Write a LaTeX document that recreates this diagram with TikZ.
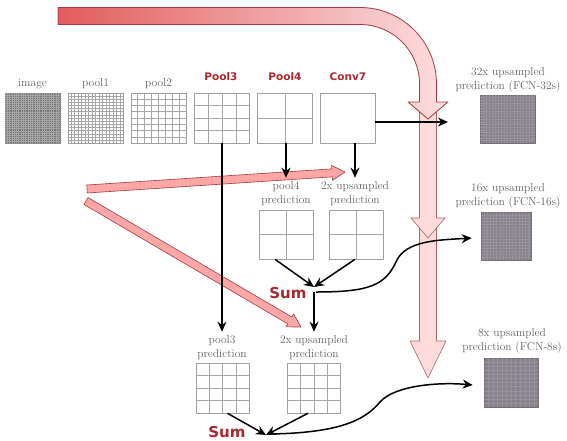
\documentclass[tikz,border=0pt]{standalone}
\usepackage{fontspec}
\usetikzlibrary{arrows.meta,calc,positioning}
\newfontfamily\lblsans{DejaVu Sans}
\definecolor{lblred}{RGB}{168,40,48}
\definecolor{outgray}{RGB}{136,130,140}
\definecolor{bandline}{RGB}{160,60,70}
\definecolor{bandstart}{RGB}{226,92,92}
\definecolor{bandend}{RGB}{252,222,224}

% inner lines of a feature map
\newcommand{\gridlines}[3][gray!70]{%
  \foreach \k in {1,...,#3}{%
    \draw[#1] ($(#2.north west)!{\k/(#3+1)}!(#2.north east)$) -- ($(#2.south west)!{\k/(#3+1)}!(#2.south east)$);
    \draw[#1] ($(#2.north west)!{\k/(#3+1)}!(#2.south west)$) -- ($(#2.north east)!{\k/(#3+1)}!(#2.south east)$);
  }}
% flat arrow: tail, tip, half shaft, half head, head length
\newcommand{\fatarrow}[6][]{%
  \coordinate (fah) at ($(#3)!#6pt!(#2)$);
  \draw[#1] ($(#2)!#4pt!90:(#3)$) -- ($(fah)!#4pt!90:(#3)$) -- ($(fah)!#5pt!90:(#3)$) -- (#3)
    -- ($(fah)!#5pt!-90:(#3)$) -- ($(fah)!#4pt!-90:(#3)$) -- ($(#2)!#4pt!-90:(#3)$) -- cycle;}

\begin{document}
\begin{tikzpicture}[x=1pt, y=-1pt, line join=round, >=Stealth,
    fmap/.style={draw=gray!75, line width=0.6pt, inner sep=0pt, minimum width=55pt, minimum height=50pt},
    outmap/.style={fmap, fill=outgray, draw=outgray!85!black},
    lbl/.style={text=black!62, font=\fontsize{11.5}{14}\selectfont, align=center, inner sep=1pt},
    redlbl/.style={text=lblred, font=\lblsans\bfseries\fontsize{10.5}{12}\selectfont},
    sumlbl/.style={text=lblred, font=\lblsans\bfseries\fontsize{15}{16}\selectfont, inner sep=0pt},
    flow/.style={line width=1.5pt, -{Stealth[length=10pt,width=9pt]}},
    band/.style={fill=red!35, draw=bandline, line width=0.6pt},
    shaft/.style={fill=red!14, draw=bandline!80, line width=0.6pt}]
  \useasboundingbox (0,0) rectangle (567,440);

  % pink skip arrows
  \coordinate (s3tail) at (428,224); \coordinate (s3tip) at (428,378);
  \coordinate (s2tail) at (428,106); \coordinate (s2tip) at (428,238);
  \fatarrow[shaft]{s3tail}{s3tip}{8.5}{18}{37}
  \fatarrow[shaft]{s2tail}{s2tip}{8.5}{17}{20}
  \draw[left color=bandstart, right color=bandend, draw=bandline, line width=0.8pt]
    (58,7.5) -- (360,7.5) arc (-90:0:76.5) -- (436.5,102) -- (448,102) -- (428,119)
    -- (408,102) -- (419.5,102) -- (419.5,84) arc (0:-90:59.5) -- (58,24.5) -- cycle;
  \coordinate (b1tail) at (87,189); \coordinate (b1tip) at (345,172);
  \coordinate (b2tail) at (86,201); \coordinate (b2tip) at (301,327);
  \fatarrow[band]{b1tail}{b1tip}{4}{7.5}{13}
  \fatarrow[band]{b2tail}{b2tip}{4}{7.5}{13}

  % feature maps
  \node[fmap, fill=black!55, draw=black!45] (img) at (32.5,118) {};
  \gridlines[black!35, line width=0.3pt]{img}{23}
  \node[fmap] (pool1) at (95.5,118) {};
  \gridlines[gray!70, line width=0.4pt]{pool1}{15}
  \node[fmap] (pool2) at (158.5,118) {};
  \gridlines{pool2}{7}
  \node[fmap] (pool3) at (222,118) {};
  \gridlines{pool3}{3}
  \node[fmap] (pool4) at (285,118) {};
  \gridlines{pool4}{1}
  \node[fmap] (conv7) at (347.5,118) {};
  \node[lbl] (imglbl) at (32.5,84) {image};
  \node[lbl] (pool1lbl) at (95.5,84) {pool1};
  \node[lbl] (pool2lbl) at (158.5,84) {pool2};
  \node[redlbl] (pool3lbl) at (221,77) {Pool3};
  \node[redlbl] (pool4lbl) at (285,77) {Pool4};
  \node[redlbl] (conv7lbl) at (348,77) {Conv7};

  % outputs
  \node[outmap, minimum height=48pt] (out32) at (507.5,119) {};
  \gridlines[outgray!88!white, line width=0.3pt]{out32}{17}
  \node[lbl] (out32lbl) at (508,80) {32x upsampled\\prediction (FCN-32s)};
  \node[outmap, minimum width=50pt, minimum height=48pt] (out16) at (506,236) {};
  \gridlines[outgray!88!white, line width=0.3pt]{out16}{15}
  \node[lbl] (out16lbl) at (508,196) {16x upsampled\\prediction (FCN-16s)};
  \node[outmap, minimum width=54pt, minimum height=49pt] (out8) at (511,382.5) {};
  \gridlines[outgray!88!white, line width=0.3pt]{out8}{11}
  \node[lbl] (out8lbl) at (512,341) {8x upsampled\\prediction (FCN-8s)};

  % pool4 stage
  \node[lbl] (p4lbl) at (286,194) {pool4\\prediction};
  \node[lbl] (up2albl) at (355,194) {2x upsampled\\prediction};
  \node[fmap, minimum width=54pt, minimum height=49pt] (p4g) at (286,234.5) {};
  \gridlines{p4g}{1}
  \node[fmap, minimum width=54pt, minimum height=49pt] (up2ag) at (356,234.5) {};
  \gridlines{up2ag}{1}
  \coordinate (sum1) at (314,287);
  \node[sumlbl] (sum1lbl) at (288,293) {Sum};

  % pool3 stage
  \node[lbl] (p3lbl) at (222,348) {pool3\\prediction};
  \node[lbl] (up2blbl) at (314,348) {2x upsampled\\prediction};
  \node[fmap, minimum width=53pt] (p3g) at (222.5,388) {};
  \gridlines{p3g}{3}
  \node[fmap, minimum width=53pt] (up2bg) at (314,388) {};
  \gridlines{up2bg}{3}
  \coordinate (sum2) at (266,435);
  \node[sumlbl] (sum2lbl) at (227,432) {Sum};

  % connections
  \coordinate (c7end) at (448,122);
  \draw[flow] ([yshift=-4pt]conv7.east) -- (c7end);
  \draw[flow, shorten >=3pt] (p4lbl.north |- pool4.south) -- (p4lbl.north);
  \draw[flow, shorten >=3pt] (up2albl.north |- conv7.south) -- (up2albl.north);
  \draw[flow, shorten >=3pt] (p3lbl.north |- pool3.south) -- (p3lbl.north);
  \draw[flow] ([xshift=-11pt]p4g.south) -- (sum1);
  \draw[flow] ([xshift=-1pt]up2ag.south) -- (sum1);
  \draw[flow, shorten >=3pt] ([yshift=-5pt]sum1) -- (up2blbl.north);
  \draw[flow] ([xshift=2pt,yshift=-5pt]sum1) .. controls (370,292) and (385,285) .. (396,262)
    .. controls (405,240) and (440,240) .. ([xshift=-9pt,yshift=-2pt]out16.west);
  \draw[flow] ([xshift=5pt]p3g.south) -- (sum2);
  \draw[flow] ([xshift=-6pt]up2bg.south) -- (sum2);
  \draw[flow] ([xshift=3pt,yshift=1pt]sum2) .. controls (340,433) and (365,420) .. (380,402)
    .. controls (395,385) and (440,382) .. ([xshift=-11pt,yshift=-2.5pt]out8.west);
\end{tikzpicture}
\end{document}
